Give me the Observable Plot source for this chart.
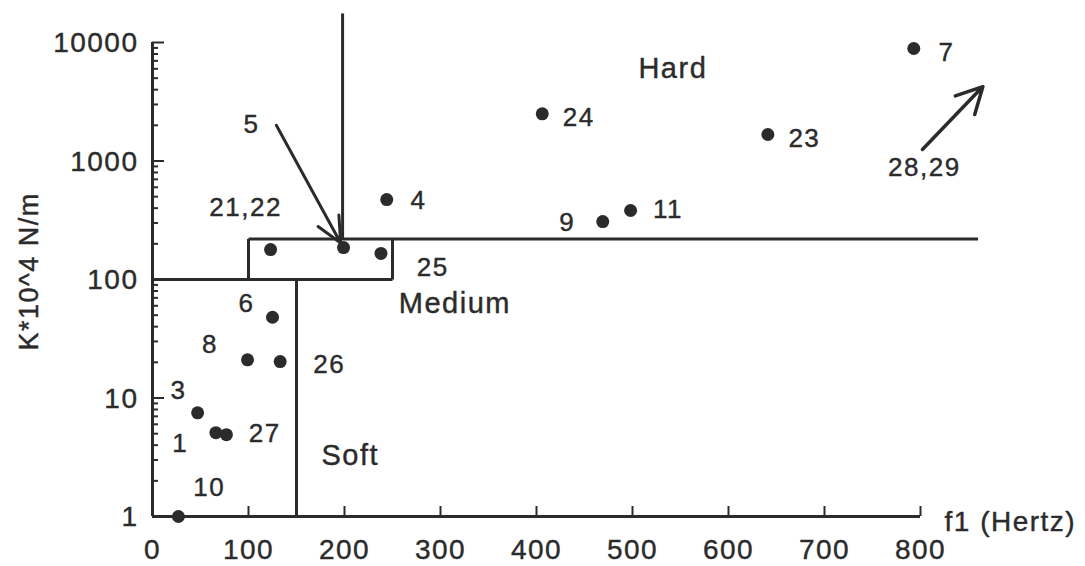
<!DOCTYPE html>
<html>
<head>
<meta charset="utf-8">
<script src="https://cdn.jsdelivr.net/npm/d3@7"></script>
<script src="https://cdn.jsdelivr.net/npm/@observablehq/plot@0.6"></script>
<style>
  html, body { margin: 0; padding: 0; background: #ffffff; }
</style>
</head>
<body>
<div id="chart"></div>
<script>
// ---- data ----
const pointId = ["10", "3", "1", "27", "8", "26", "6", "21,22", "5", "25", "4", "9", "11", "24", "23", "7"];
const pointF1 = [27, 47, 66, 77, 99, 133, 125, 123, 199, 238, 244, 469, 498, 406, 641, 793];
const pointK  = [1, 7.5, 5.1, 4.9, 21, 20.3, 48, 179, 186, 166, 473, 308, 382, 2500, 1674, 8900];

const labelText = ["10", "3", "1", "27", "8", "26", "6", "21,22", "5", "25", "4", "9", "11", "24", "23", "7", "28,29"];
const labelF1   = [59, 27, 29, 117, 60, 184, 98, 97, 103, 292, 277, 432, 537, 444, 679, 827, 804];
const labelK    = [1.76, 11.6, 4.13, 5.0, 28.3, 19.2, 62, 405, 2030, 126, 464, 303, 390, 2330, 1550, 8240, 881];

const regionName = ["Soft", "Medium", "Hard"];
const regionF1   = [206, 315, 542];
const regionK    = [3.27, 62.7, 6030];

// region boundary segments
const segF1a = [0, 150, 100, 100, 250, 198];
const segKa  = [100, 1, 100, 220, 100, 220];
const segF1b = [250, 150, 100, 860, 250, 198];
const segKb  = [100, 100, 220, 220, 220, 17600];

// arrows: "5" pointer and "28,29" off-scale pointer
const arrowF1a = [129, 802];
const arrowKa  = [2000, 1250];
const arrowF1b = [196, 865];
const arrowKb  = [203, 4250];

const xTicks = [0, 100, 200, 300, 400, 500, 600, 700, 800];
const yTicks = [1, 10, 100, 1000, 10000];
const yMinor = [];
for (const d of [1, 10, 100, 1000]) for (let m = 2; m <= 9; m++) yMinor.push(d * m);

const xTitle = "f1 (Hertz)";
const yTitle = "K*10^4 N/m";
const yTitleK = 117;

// ---- layout ----
const W = 1085, H = 566;
const mL = 152, mR = 165, mT = 42, mB = 50;
const innerW = W - mL - mR, innerH = H - mT - mB;
const ink = "#2b2b2b";
const txt = {fill: ink, stroke: ink, strokeWidth: 0.4};

const points = pointId.map((id, i) => ({id, f1: pointF1[i], k: pointK[i]}));
const labels = labelText.map((t, i) => ({t, f1: labelF1[i], k: labelK[i]}));
const regions = regionName.map((t, i) => ({t, f1: regionF1[i], k: regionK[i]}));
const segs = segF1a.map((_, i) => ({x1: segF1a[i], y1: segKa[i], x2: segF1b[i], y2: segKb[i]}));
const arrows = arrowF1a.map((_, i) => ({x1: arrowF1a[i], y1: arrowKa[i], x2: arrowF1b[i], y2: arrowKb[i]}));

const chart = Plot.plot({
  width: W,
  height: H,
  marginLeft: mL,
  marginRight: mR,
  marginTop: mT,
  marginBottom: mB,
  style: {fontFamily: "'Liberation Sans', Arial, sans-serif", background: "#fff", color: ink, letterSpacing: "1.5px"},
  x: {domain: [0, 800], axis: null},
  y: {type: "log", domain: [1, 10000], axis: null},
  marks: [
    // axis lines
    Plot.ruleX([0], {stroke: ink, strokeWidth: 3}),
    Plot.ruleY([1], {stroke: ink, strokeWidth: 3}),
    // ticks pointing inward
    Plot.tickX(xTicks, {x: d => d, stroke: ink, strokeWidth: 2, insetTop: innerH - 10}),
    Plot.tickY(yTicks, {y: d => d, stroke: ink, strokeWidth: 2, insetRight: innerW - 12}),
    Plot.tickY(yMinor, {y: d => d, stroke: ink, strokeWidth: 2, insetRight: innerW - 6}),
    // tick labels
    Plot.text(xTicks, {x: d => d, text: d => String(d), frameAnchor: "bottom", lineAnchor: "middle", textAnchor: "middle", dy: 34, fontSize: 28, ...txt}),
    Plot.text(yTicks, {y: d => d, text: d => String(d), frameAnchor: "left", lineAnchor: "middle", textAnchor: "end", dx: -14, dy: 1, fontSize: 28, ...txt}),
    // axis titles
    Plot.text([yTitle], {y: () => yTitleK, frameAnchor: "left", textAnchor: "middle", lineAnchor: "middle", dx: -123, rotate: -90, fontSize: 27, ...txt}),
    Plot.text([xTitle], {frameAnchor: "bottom-right", textAnchor: "start", lineAnchor: "middle", dx: 24, dy: 6, fontSize: 28, ...txt}),
    // region boundaries
    Plot.link(segs, {x1: "x1", y1: "y1", x2: "x2", y2: "y2", stroke: ink, strokeWidth: 3}),
    // arrows
    Plot.arrow([arrows[0]], {x1: "x1", y1: "y1", x2: "x2", y2: "y2", stroke: ink, strokeWidth: 3, headLength: 14, headAngle: 50}),
    Plot.arrow([arrows[1]], {x1: "x1", y1: "y1", x2: "x2", y2: "y2", stroke: ink, strokeWidth: 3.5, headLength: 24, headAngle: 55}),
    // points
    Plot.dot(points, {x: "f1", y: "k", r: 6.5, fill: ink, stroke: "none"}),
    // labels
    Plot.text(labels, {x: "f1", y: "k", text: "t", textAnchor: "middle", lineAnchor: "middle", fontSize: 26, ...txt}),
    Plot.text(regions, {x: "f1", y: "k", text: "t", textAnchor: "middle", lineAnchor: "middle", fontSize: 29, ...txt})
  ]
});
document.getElementById("chart").appendChild(chart);
</script>
</body>
</html>
